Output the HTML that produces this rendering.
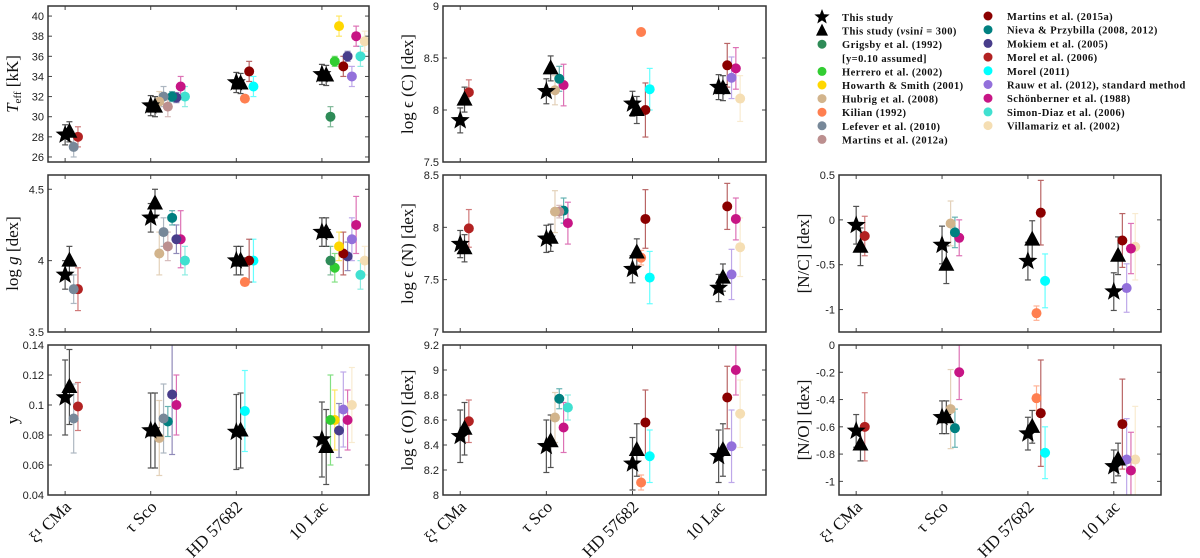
<!DOCTYPE html>
<html><head><meta charset="utf-8"><style>
body{margin:0;background:#fff;}
svg{display:block;font-family:"Liberation Sans",sans-serif;}
.lg{font-family:"Liberation Serif",serif;font-weight:bold;font-size:10.5px;letter-spacing:0.45px;fill:#111;}
</style></head><body>
<svg id="c" width="1200" height="558" viewBox="0 0 1200 558" xmlns="http://www.w3.org/2000/svg"></svg>
<script>
const categories = ["ξ¹ CMa","τ Sco","HD 57682","10 Lac"];
const sourceNames = ["This study","This study (vsini = 300)","Grigsby et al. (1992)","Herrero et al. (2002)","Howarth & Smith (2001)","Hubrig et al. (2008)","Kilian (1992)","Lefever et al. (2010)","Martins et al. (2012a)","Martins et al. (2015a)","Nieva & Przybilla (2008, 2012)","Mokiem et al. (2005)","Morel et al. (2006)","Morel (2011)","Rauw et al. (2012), standard method","Schönberner et al. (1988)","Simon-Diaz et al. (2006)","Villamariz et al. (2002)"];
const sourceColors = ["#000","#000","#2e8b57","#32cd32","#ffd700","#d2b48c","#ff7f50","#778899","#bc8f8f","#8b0000","#008080","#483d8b","#b22222","#00ffff","#9370db","#c71585","#40e0d0","#f5deb3"];

// Teff
const teffCat = [0,0,0,0, 1,1,1,1,1,1,1,1,1, 2,2,2,2,2, 3,3,3,3,3,3,3,3,3,3,3];
const teffSrc = [0,1,7,12, 0,1,5,7,8,11,10,15,16, 0,1,6,9,13, 0,1,2,3,4,9,11,14,15,16,17];
const teffVal = [28.2,28.5,27,28, 31.1,31.0,31.5,32,31,31.9,32,33,32, 33.4,33.3,31.8,34.5,33, 34.2,34.1,30,35.5,39,35,36,34,38,36,37.5];
const teffErr = [1,1,1,1, 1,1,1,1,1,0.5,0.5,1,1, 1,1,0.3,1,1, 1,1,1,0.5,1,1,0.5,1,1,1,1];
// log g
const loggCat = teffCat;
const loggSrc = teffSrc;
const loggVal = [3.9,4.0,3.8,3.8, 4.3,4.4,4.05,4.2,4.1,4.15,4.3,4.15,4.0, 4.0,4.0,3.85,4.0,4.0, 4.2,4.2,4.0,3.95,4.1,4.05,4.03,4.15,4.25,3.9,4.0];
const loggErr = [0.1,0.1,0.1,0.15, 0.1,0.1,0.15,0.1,0.1,0.1,0.05,0.2,0.1, 0.1,0.1,0.02,0.15,0.15, 0.1,0.1,0.1,0.1,0.1,0.15,0.1,0.15,0.2,0.1,0.1];
// y
const yCat = [0,0,0,0, 1,1,1,1,1,1,1, 2,2,2, 3,3,3,3,3,3,3,3];
const ySrc = [0,1,7,12, 0,1,5,7,11,10,15, 0,1,13, 0,1,3,4,11,14,15,17];
const yVal = [0.105,0.112,0.091,0.099, 0.083,0.083,0.078,0.091,0.107,0.089,0.100, 0.082,0.083,0.096, 0.077,0.072,0.090,0.090,0.083,0.097,0.090,0.100];
const yErr = [0.025,0.025,0.023,0.016, 0.025,0.025,0.025,0.023,0.04,0.01,0.02, 0.025,0.025,0.027, 0.025,0.025,0.03,0.02,0.018,0.025,0.02,0.025];
// abundance panels
const abCat = [0,0,0, 1,1,1,1,1, 2,2,2,2,2, 3,3,3,3,3,3];
const abSrc = [0,1,12, 0,1,5,10,15, 0,1,6,9,13, 0,1,9,14,15,17];
const cVal = [7.9,8.1,8.17, 8.18,8.4,8.19,8.3,8.24, 8.06,8.0,8.75,8.0,8.2, 8.22,8.21,8.43,8.31,8.4,8.11];
const cErr = [0.12,0.12,0.12, 0.12,0.12,0.14,0.12,0.2, 0.12,0.13,0,0.26,0.2, 0.12,0.12,0.21,0.2,0.2,0.22];
const nCat = [0,0,0, 1,1,1,1,1,1, 2,2,2,2,2, 3,3,3,3,3,3];
const nSrc = [0,1,12, 0,1,5,8,10,15, 0,1,6,9,13, 0,1,9,14,15,17];
const nVal = [7.84,7.80,7.99, 7.89,7.90,8.15,8.15,8.16,8.04, 7.60,7.76,7.71,8.08,7.52, 7.42,7.52,8.20,7.55,8.08,7.81];
const nErr = [0.13,0.13,0.18, 0.13,0.13,0.2,0.06,0.12,0.2, 0.13,0.13,0.07,0.28,0.25, 0.13,0.13,0.22,0.24,0.2,0.28];
const ncVal = [-0.06,-0.30,-0.18, -0.28,-0.50,-0.04,-0.14,-0.20, -0.46,-0.22,-1.04,0.08,-0.68, -0.80,-0.40,-0.23,-0.76,-0.32,-0.30];
const ncErr = [0.21,0.21,0.22, 0.21,0.21,0.25,0.17,0.2, 0.21,0.21,0.08,0.36,0.3, 0.21,0.21,0.3,0.27,0.28,0.37];
const oCat = [0,0,0, 1,1,1,1,1,1, 2,2,2,2,2, 3,3,3,3,3,3];
const oSrc = [0,1,12, 0,1,5,10,15,16, 0,1,6,9,13, 0,1,9,14,15,17];
const oVal = [8.47,8.53,8.59, 8.39,8.43,8.62,8.77,8.54,8.70, 8.25,8.36,8.10,8.58,8.31, 8.31,8.36,8.78,8.39,9.00,8.65];
const oErr = [0.21,0.21,0.17, 0.21,0.21,0.2,0.08,0.2,0.1, 0.21,0.21,0.06,0.26,0.21, 0.21,0.21,0.25,0.29,0.2,0.27];
const noVal = [-0.63,-0.73,-0.60, -0.53,-0.53,-0.47,-0.61,-0.20, -0.65,-0.60,-0.39,-0.50,-0.79, -0.89,-0.84,-0.58,-0.84,-0.92,-0.84];
const noErr = [0.12,0.12,0.25, 0.12,0.12,0.29,0.14,0.2, 0.12,0.12,0.09,0.39,0.19, 0.12,0.12,0.33,0.3,0.28,0.39];

const teffTicks = [26,28,30,32,34,36,38,40];
const loggTicks = [3.5,4,4.5];
const yTicks = [0.04,0.06,0.08,0.1,0.12,0.14];
const cTicks = [7.5,8,8.5,9];
const nTicks = [7,7.5,8,8.5];
const oTicks = [8,8.2,8.4,8.6,8.8,9,9.2];
const ncTicks = [-1,-0.5,0,0.5];
const noTicks = [-1,-0.8,-0.6,-0.4,-0.2,0];

const svg = document.getElementById('c');
const NS = "http://www.w3.org/2000/svg";
function mk(tag, attrs, parent){const e=document.createElementNS(NS,tag);for(const k in attrs)e.setAttribute(k,attrs[k]);(parent||svg).appendChild(e);return e;}
function starPts(cx,cy,R){const r=R*0.42;let p=[];for(let i=0;i<10;i++){const a=-Math.PI/2+i*Math.PI/5;const rr=i%2?r:R;p.push((cx+rr*Math.cos(a)).toFixed(1)+","+(cy+rr*Math.sin(a)).toFixed(1));}return p.join(" ");}

const cols = [[48,369],[443,766],[839,1161]];
const rows = [[6,162],[175,332],[345,495]];

function panel(name, col, row, ymin, ymax, ticks, label, cat, src, val, err, showX){
  const [x0,x1]=cols[col], [y0,y1]=rows[row];
  const g = mk('g',{});
  
  
  const xs = v => x0 + (v+0.2)/3.75*(x1-x0);
  const ys = v => y1 - (v-ymin)/(ymax-ymin)*(y1-y0);
  const clip = 'clip-'+name;
  const cp = mk('clipPath',{id:clip},g); mk('rect',{x:x0,y:y0,width:x1-x0,height:y1-y0},cp);
  ticks.forEach(t=>{
    const y=ys(t);
    mk('line',{x1:x0,x2:x0+4,y1:y,y2:y,stroke:'#444','stroke-width':1},g);
    mk('line',{x1:x1,x2:x1-4,y1:y,y2:y,stroke:'#444','stroke-width':1},g);
    const tl=mk('text',{x:x0-4,y:y+4,'text-anchor':'end','font-size':11,fill:'#222'},g);
    tl.textContent=String(t);
    
    
  });
  categories.forEach((c,i)=>{
    const x=xs(i);
    mk('line',{x1:x,x2:x,y1:y1,y2:y1-4,stroke:'#444','stroke-width':1},g);
    mk('line',{x1:x,x2:x,y1:y0,y2:y0+4,stroke:'#444','stroke-width':1},g);
    if(showX){
      const t=mk('text',{transform:`translate(${x+7},${y1+13}) rotate(-45)`,'text-anchor':'end','font-family':'Liberation Serif, serif','font-size':17,fill:'#111'},g);
      t.textContent=c;
      
      
    }
  });
  const slots=[];
  for(let ci=0;ci<4;ci++){
    const idx=[];for(let k=0;k<cat.length;k++)if(cat[k]===ci)idx.push(k);
    idx.sort((a,b)=>src[a]-src[b]);
    idx.forEach((k,r)=>slots[k]=r);
  }
  const pg=mk('g',{'clip-path':`url(#${clip})`},g);
  const order=[];for(let k=0;k<cat.length;k++)order.push(k);
  order.sort((a,b)=>src[b]-src[a]);
  const draw=(k,pass)=>{
    const s=src[k], x=xs(cat[k]+slots[k]*0.05), y=ys(val[k]);
    const col = sourceColors[s];
    if(pass===0){
      if(err[k]>0){
        const ec = s<2 ? '#333' : col;
        const op = s<2 ? 0.85 : 0.6;
        const eg=mk('g',{stroke:ec,'stroke-width':1.2,opacity:op},pg);
        mk('line',{x1:x,x2:x,y1:ys(val[k]-err[k]),y2:ys(val[k]+err[k])},eg);
        mk('line',{x1:x-3,x2:x+3,y1:ys(val[k]-err[k]),y2:ys(val[k]-err[k])},eg);
        mk('line',{x1:x-3,x2:x+3,y1:ys(val[k]+err[k]),y2:ys(val[k]+err[k])},eg);
        
        
      }
    } else {
      let m;
      if(s===0) m=mk('polygon',{points:starPts(x,y,10),fill:'#000'},pg);
      else if(s===1) m=mk('polygon',{points:`${x},${y-9} ${x+8},${y+6} ${x-8},${y+6}`,fill:'#000'},pg);
      else m=mk('circle',{cx:x,cy:y,r:5,fill:col},pg);
      
      
    }
  };
  order.forEach(k=>draw(k,0));
  order.forEach(k=>draw(k,1));
  const fr=mk('rect',{x:x0,y:y0,width:x1-x0,height:y1-y0,fill:'none',stroke:'#333','stroke-width':1.5},g);
  
  
  const lx = x0-30, ly=(y0+y1)/2;
  const lt=mk('text',{transform:`translate(${lx},${ly}) rotate(-90)`,'text-anchor':'middle','font-family':'Liberation Serif, serif','font-size':17,fill:'#111'},g);
  lt.innerHTML=label;
  
  
}

panel('teff',0,0,25.5,41,teffTicks,'<tspan font-style="italic">T</tspan><tspan font-size="11" dy="3">eff</tspan><tspan dy="-3"> [kK]</tspan>',teffCat,teffSrc,teffVal,teffErr,false);
panel('logg',0,1,3.5,4.6,loggTicks,'log <tspan font-style="italic">g</tspan> [dex]',loggCat,loggSrc,loggVal,loggErr,false);
panel('helium',0,2,0.04,0.14,yTicks,'y',yCat,ySrc,yVal,yErr,true);
panel('carbon',1,0,7.5,9,cTicks,'log ϵ (C) [dex]',abCat,abSrc,cVal,cErr,false);
panel('nitrogen',1,1,7,8.5,nTicks,'log ϵ (N) [dex]',nCat,nSrc,nVal,nErr,false);
panel('oxygen',1,2,8,9.2,oTicks,'log ϵ (O) [dex]',oCat,oSrc,oVal,oErr,true);
panel('n-over-c',2,1,-1.25,0.5,ncTicks,'[N/C] [dex]',abCat,abSrc,ncVal,ncErr,false);
panel('n-over-o',2,2,-1.1,0,noTicks,'[N/O] [dex]',abCat,abSrc,noVal,noErr,true);

const lg=mk('g',{});


const leftRows=[0,1,2,-1,3,4,5,6,7,8];
leftRows.forEach((s,i)=>{
  const y=17+i*13.6, x=822;
  if(s===0) mk('polygon',{points:starPts(x,y,8),fill:'#000'},lg);
  else if(s===1) mk('polygon',{points:`${x},${y-7} ${x+6},${y+5} ${x-6},${y+5}`,fill:'#000'},lg);
  else if(s>1) mk('circle',{cx:x,cy:y,r:4.5,fill:sourceColors[s]},lg);
  const t=mk('text',{x:842,y:y+4,class:'lg'},lg);
  if(s===1) t.innerHTML='This study (<tspan font-style="italic">v</tspan>sin<tspan font-style="italic">i</tspan> = 300)';
  else t.textContent = s<0 ? '[y=0.10 assumed]' : sourceNames[s];
  
  
});
[9,10,11,12,13,14,15,16,17].forEach((s,i)=>{
  const y=16+i*13.7, x=988;
  mk('circle',{cx:x,cy:y,r:4.5,fill:sourceColors[s]},lg);
  const t=mk('text',{x:1007,y:y+4,class:'lg'},lg);
  t.textContent=sourceNames[s];
  
  
});
</script>
</body></html>
